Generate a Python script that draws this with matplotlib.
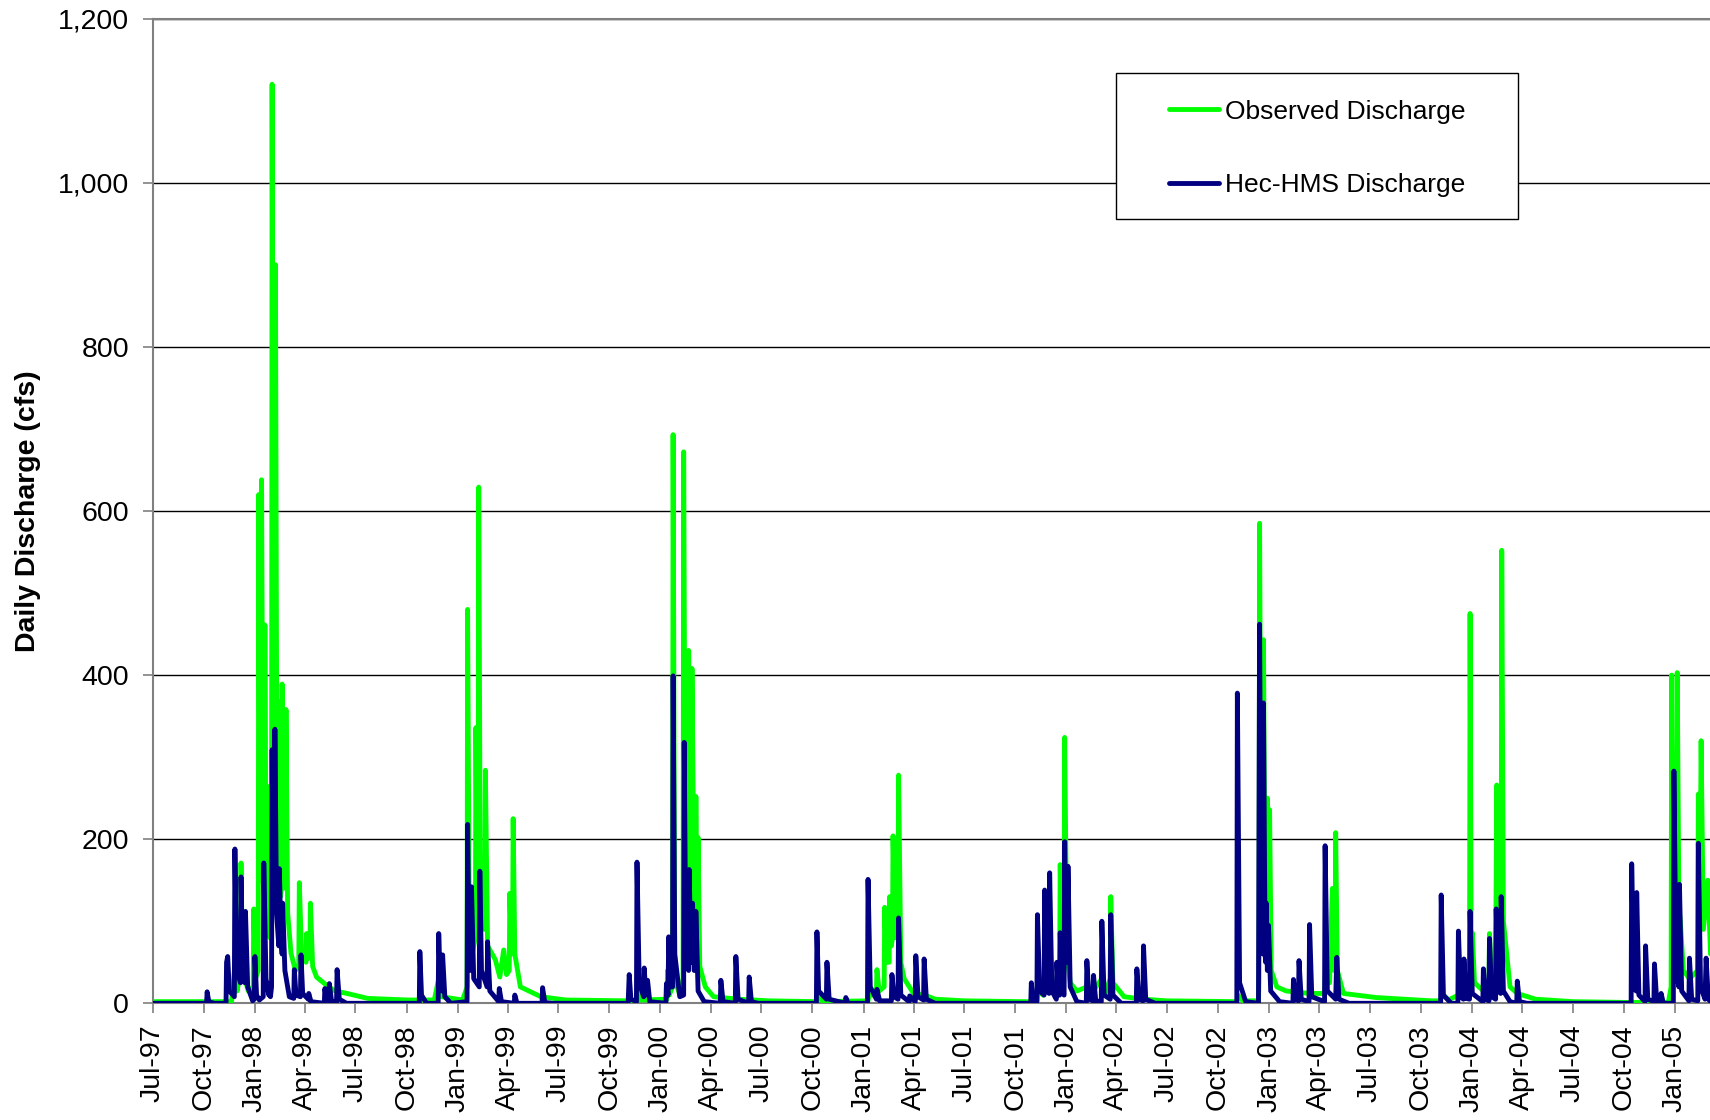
import matplotlib
matplotlib.use('Agg')
import matplotlib.pyplot as plt
import matplotlib.dates as mdates
import matplotlib.ticker as mticker
from matplotlib.patches import Rectangle
import pandas as pd

plt.rcParams['font.family'] = ['Liberation Sans', 'DejaVu Sans']

# observed daily discharge (cfs), turning points
obs_9798 = [("1997-07-01", 2), ("1997-11-20", 2), ("1997-11-27", 55), ("1997-11-30", 15),
            ("1997-12-06", 40), ("1997-12-07", 171), ("1997-12-10", 40), ("1997-12-20", 15),
            ("1997-12-29", 20), ("1997-12-30", 115), ("1998-01-02", 30), ("1998-01-07", 40),
            ("1998-01-08", 620), ("1998-01-10", 150), ("1998-01-12", 200), ("1998-01-13", 638),
            ("1998-01-16", 150), ("1998-01-18", 120), ("1998-01-19", 461), ("1998-01-21", 130),
            ("1998-01-24", 90), ("1998-01-25", 264), ("1998-01-28", 80), ("1998-01-31", 120),
            ("1998-02-01", 1120), ("1998-02-04", 250), ("1998-02-06", 300), ("1998-02-07", 900),
            ("1998-02-10", 150), ("1998-02-12", 130), ("1998-02-13", 368), ("1998-02-16", 130),
            ("1998-02-18", 140), ("1998-02-19", 389), ("1998-02-22", 180), ("1998-02-25", 140),
            ("1998-02-26", 358), ("1998-03-01", 110), ("1998-03-07", 61), ("1998-03-15", 40),
            ("1998-03-21", 45), ("1998-03-22", 147), ("1998-03-26", 60), ("1998-04-03", 50),
            ("1998-04-04", 85), ("1998-04-08", 55), ("1998-04-10", 60), ("1998-04-11", 122),
            ("1998-04-15", 45), ("1998-04-22", 32), ("1998-05-10", 22), ("1998-05-25", 15),
            ("1998-06-16", 12), ("1998-07-23", 6), ("1998-10-03", 4)]
obs_9899 = [("1998-11-20", 4), ("1998-11-28", 30), ("1998-12-03", 8), ("1999-01-10", 4),
            ("1999-01-18", 20), ("1999-01-19", 480), ("1999-01-22", 90), ("1999-01-27", 60),
            ("1999-02-02", 80), ("1999-02-03", 336), ("1999-02-05", 120), ("1999-02-07", 150),
            ("1999-02-08", 629), ("1999-02-11", 120), ("1999-02-19", 90), ("1999-02-20", 284),
            ("1999-02-24", 70), ("1999-03-10", 53), ("1999-03-18", 32), ("1999-03-25", 65),
            ("1999-03-30", 35), ("1999-04-04", 40), ("1999-04-05", 134), ("1999-04-08", 60),
            ("1999-04-10", 80), ("1999-04-11", 225), ("1999-04-14", 60), ("1999-04-24", 20),
            ("1999-05-31", 8), ("1999-07-15", 4), ("1999-11-01", 3)]
obs_9900 = [("1999-11-19", 3), ("1999-11-21", 20), ("1999-11-26", 4), ("2000-01-13", 5),
            ("2000-01-14", 40), ("2000-01-17", 10), ("2000-01-23", 20), ("2000-01-24", 693),
            ("2000-01-27", 30), ("2000-02-05", 10), ("2000-02-11", 30), ("2000-02-12", 672),
            ("2000-02-15", 150), ("2000-02-19", 140), ("2000-02-21", 430), ("2000-02-24", 150),
            ("2000-02-26", 160), ("2000-02-27", 408), ("2000-03-02", 120), ("2000-03-04", 110),
            ("2000-03-05", 252), ("2000-03-07", 90), ("2000-03-09", 202), ("2000-03-12", 45),
            ("2000-03-22", 20), ("2000-04-06", 8), ("2000-05-20", 5), ("2000-07-15", 3)]
obs_0001 = [("2000-10-08", 2), ("2000-10-10", 8), ("2000-10-20", 2), ("2001-01-09", 3),
            ("2001-01-11", 10), ("2001-01-24", 10), ("2001-01-25", 41), ("2001-01-29", 15),
            ("2001-02-07", 20), ("2001-02-08", 117), ("2001-02-11", 50), ("2001-02-16", 50),
            ("2001-02-17", 130), ("2001-02-20", 70), ("2001-02-22", 80), ("2001-02-23", 204),
            ("2001-02-27", 80), ("2001-03-04", 90), ("2001-03-05", 278), ("2001-03-09", 50),
            ("2001-03-15", 30), ("2001-04-01", 12), ("2001-04-21", 10), ("2001-05-10", 5),
            ("2001-07-01", 3), ("2001-10-15", 2)]
obs_0102 = [("2001-11-09", 2), ("2001-11-11", 15), ("2001-11-20", 10), ("2001-11-24", 40),
            ("2001-11-28", 15), ("2001-12-03", 60), ("2001-12-08", 15), ("2001-12-20", 30),
            ("2001-12-21", 169), ("2001-12-24", 50), ("2001-12-28", 60), ("2001-12-29", 324),
            ("2002-01-02", 60), ("2002-01-08", 25), ("2002-01-20", 15), ("2002-02-07", 20),
            ("2002-02-15", 12), ("2002-03-06", 30), ("2002-03-12", 12), ("2002-03-21", 30),
            ("2002-03-22", 130), ("2002-03-26", 25), ("2002-04-15", 8), ("2002-05-20", 5),
            ("2002-07-01", 3), ("2002-10-20", 2)]
obs_0203 = [("2002-11-04", 2), ("2002-11-06", 10), ("2002-11-15", 3), ("2002-12-13", 3),
            ("2002-12-14", 30), ("2002-12-15", 585), ("2002-12-18", 120), ("2002-12-21", 120),
            ("2002-12-22", 443), ("2002-12-25", 90), ("2002-12-28", 80), ("2002-12-29", 250),
            ("2002-12-31", 90), ("2003-01-02", 236), ("2003-01-05", 40), ("2003-01-15", 20),
            ("2003-02-01", 15), ("2003-03-15", 12), ("2003-04-11", 12), ("2003-04-13", 40),
            ("2003-04-20", 25), ("2003-04-25", 140), ("2003-04-28", 40), ("2003-04-30", 50),
            ("2003-05-01", 208), ("2003-05-04", 40), ("2003-05-15", 12), ("2003-07-13", 7),
            ("2003-10-20", 3)]
obs_0304 = [("2003-11-06", 3), ("2003-11-08", 12), ("2003-11-20", 4), ("2003-12-08", 10),
            ("2003-12-18", 12), ("2003-12-28", 10), ("2003-12-29", 475), ("2003-12-31", 60),
            ("2004-01-02", 86), ("2004-01-06", 25), ("2004-01-22", 15), ("2004-02-01", 20),
            ("2004-02-02", 85), ("2004-02-05", 40), ("2004-02-13", 40), ("2004-02-15", 266),
            ("2004-02-18", 90), ("2004-02-23", 80), ("2004-02-24", 552), ("2004-02-27", 100),
            ("2004-03-10", 20), ("2004-03-23", 12), ("2004-04-25", 5), ("2004-07-01", 2),
            ("2004-10-10", 1)]
obs_0405 = [("2004-12-20", 1), ("2004-12-25", 20), ("2004-12-26", 400), ("2004-12-29", 80),
            ("2005-01-04", 70), ("2005-01-05", 403), ("2005-01-08", 120), ("2005-01-11", 95),
            ("2005-01-16", 40), ("2005-01-27", 30), ("2005-02-11", 40), ("2005-02-12", 255),
            ("2005-02-15", 120), ("2005-02-17", 320), ("2005-02-21", 90), ("2005-03-01", 150),
            ("2005-03-06", 60)]

# Hec-HMS simulated daily discharge (cfs)
hms_9798 = [("1997-07-01", 0), ("1997-10-06", 0), ("1997-10-07", 14), ("1997-10-10", 2),
            ("1997-10-20", 0), ("1997-11-10", 0), ("1997-11-11", 50), ("1997-11-13", 57),
            ("1997-11-16", 15), ("1997-11-25", 8), ("1997-11-26", 188), ("1997-11-29", 40),
            ("1997-12-06", 25), ("1997-12-07", 154), ("1997-12-10", 40), ("1997-12-14", 25),
            ("1997-12-15", 112), ("1997-12-19", 20), ("1997-12-28", 3), ("1997-12-31", 5),
            ("1998-01-01", 57), ("1998-01-04", 10), ("1998-01-09", 4), ("1998-01-16", 8),
            ("1998-01-17", 171), ("1998-01-21", 30), ("1998-01-26", 10), ("1998-01-27", 24),
            ("1998-01-29", 8), ("1998-01-31", 20), ("1998-02-01", 309), ("1998-02-03", 120),
            ("1998-02-05", 150), ("1998-02-06", 334), ("1998-02-09", 110), ("1998-02-13", 70),
            ("1998-02-14", 164), ("1998-02-17", 80), ("1998-02-19", 60), ("1998-02-20", 122),
            ("1998-02-24", 40), ("1998-03-04", 8), ("1998-03-12", 6), ("1998-03-13", 41),
            ("1998-03-16", 10), ("1998-03-24", 8), ("1998-03-25", 59), ("1998-03-28", 12),
            ("1998-04-07", 5), ("1998-04-08", 12), ("1998-04-12", 2), ("1998-05-06", 0),
            ("1998-05-07", 18), ("1998-05-10", 4), ("1998-05-14", 3), ("1998-05-15", 24),
            ("1998-05-19", 3), ("1998-05-28", 1), ("1998-05-29", 41), ("1998-06-02", 5),
            ("1998-06-15", 0)]
hms_9899 = [("1998-10-24", 0), ("1998-10-25", 63), ("1998-10-28", 10), ("1998-11-06", 0),
            ("1998-11-27", 0), ("1998-11-28", 85), ("1998-12-01", 20), ("1998-12-04", 15),
            ("1998-12-05", 59), ("1998-12-09", 8), ("1998-12-20", 0), ("1999-01-18", 2),
            ("1999-01-19", 218), ("1999-01-22", 50), ("1999-01-25", 40), ("1999-01-26", 142),
            ("1999-01-30", 30), ("1999-02-09", 20), ("1999-02-10", 161), ("1999-02-13", 40),
            ("1999-02-23", 20), ("1999-02-24", 75), ("1999-02-28", 15), ("1999-03-16", 2),
            ("1999-03-17", 18), ("1999-03-21", 2), ("1999-04-13", 0), ("1999-04-14", 10),
            ("1999-04-18", 0), ("1999-06-02", 0), ("1999-06-03", 19), ("1999-06-07", 1),
            ("1999-06-20", 0)]
hms_9900 = [("1999-11-04", 0), ("1999-11-06", 35), ("1999-11-09", 5), ("1999-11-19", 2),
            ("1999-11-20", 172), ("1999-11-24", 25), ("1999-12-02", 8), ("1999-12-03", 43),
            ("1999-12-06", 10), ("1999-12-09", 28), ("1999-12-13", 2), ("2000-01-11", 0),
            ("2000-01-12", 24), ("2000-01-15", 10), ("2000-01-16", 81), ("2000-01-20", 20),
            ("2000-01-23", 20), ("2000-01-24", 399), ("2000-01-27", 60), ("2000-02-05", 8),
            ("2000-02-12", 10), ("2000-02-13", 318), ("2000-02-16", 60), ("2000-02-21", 40),
            ("2000-02-22", 163), ("2000-02-25", 50), ("2000-02-27", 50), ("2000-02-28", 122),
            ("2000-03-02", 40), ("2000-03-04", 40), ("2000-03-05", 112), ("2000-03-09", 15),
            ("2000-03-20", 2), ("2000-04-18", 0), ("2000-04-19", 28), ("2000-04-23", 2),
            ("2000-05-15", 0), ("2000-05-16", 57), ("2000-05-20", 5), ("2000-06-08", 0),
            ("2000-06-09", 32), ("2000-06-13", 2), ("2000-06-25", 0)]
hms_0001 = [("2000-10-08", 0), ("2000-10-09", 87), ("2000-10-12", 15), ("2000-10-26", 5),
            ("2000-10-27", 50), ("2000-10-31", 5), ("2000-11-29", 0), ("2000-11-30", 7),
            ("2000-12-04", 0), ("2001-01-08", 0), ("2001-01-09", 151), ("2001-01-13", 20),
            ("2001-01-24", 5), ("2001-01-25", 17), ("2001-01-30", 3), ("2001-02-20", 3),
            ("2001-02-21", 35), ("2001-02-25", 8), ("2001-03-04", 5), ("2001-03-05", 104),
            ("2001-03-09", 10), ("2001-03-24", 2), ("2001-03-25", 9), ("2001-04-04", 2),
            ("2001-04-05", 58), ("2001-04-09", 8), ("2001-04-19", 4), ("2001-04-20", 54),
            ("2001-04-24", 5), ("2001-05-10", 0)]
hms_0102 = [("2001-10-29", 0), ("2001-10-30", 25), ("2001-11-02", 3), ("2001-11-09", 2),
            ("2001-11-10", 108), ("2001-11-14", 15), ("2001-11-22", 10), ("2001-11-23", 138),
            ("2001-11-27", 15), ("2001-12-01", 12), ("2001-12-02", 159), ("2001-12-06", 15),
            ("2001-12-14", 5), ("2001-12-15", 50), ("2001-12-18", 10), ("2001-12-20", 10),
            ("2001-12-21", 86), ("2001-12-24", 15), ("2001-12-28", 10), ("2001-12-29", 197),
            ("2002-01-01", 60), ("2002-01-03", 50), ("2002-01-04", 167), ("2002-01-08", 20),
            ("2002-01-20", 2), ("2002-02-06", 0), ("2002-02-07", 52), ("2002-02-11", 5),
            ("2002-02-18", 3), ("2002-02-19", 34), ("2002-02-23", 3), ("2002-03-05", 2),
            ("2002-03-06", 100), ("2002-03-10", 10), ("2002-03-21", 5), ("2002-03-22", 108),
            ("2002-03-26", 10), ("2002-04-10", 0), ("2002-05-07", 0), ("2002-05-08", 42),
            ("2002-05-12", 5), ("2002-05-19", 3), ("2002-05-20", 70), ("2002-05-24", 5),
            ("2002-06-10", 0)]
hms_0203 = [("2002-11-04", 0), ("2002-11-05", 378), ("2002-11-09", 25), ("2002-11-20", 2),
            ("2002-12-13", 0), ("2002-12-15", 462), ("2002-12-18", 80), ("2002-12-21", 60),
            ("2002-12-22", 366), ("2002-12-25", 60), ("2002-12-26", 50), ("2002-12-27", 122),
            ("2002-12-29", 40), ("2002-12-31", 95), ("2003-01-04", 15), ("2003-01-20", 2),
            ("2003-02-13", 0), ("2003-02-14", 29), ("2003-02-17", 5), ("2003-02-23", 3),
            ("2003-02-24", 52), ("2003-02-28", 5), ("2003-03-14", 2), ("2003-03-15", 96),
            ("2003-03-19", 8), ("2003-04-11", 2), ("2003-04-12", 192), ("2003-04-16", 15),
            ("2003-05-01", 5), ("2003-05-03", 56), ("2003-05-07", 5), ("2003-05-25", 0)]
hms_0304 = [("2003-11-06", 0), ("2003-11-07", 132), ("2003-11-11", 10), ("2003-11-25", 0),
            ("2003-12-07", 0), ("2003-12-08", 88), ("2003-12-12", 8), ("2003-12-17", 5),
            ("2003-12-18", 54), ("2003-12-22", 6), ("2003-12-28", 5), ("2003-12-29", 112),
            ("2004-01-02", 12), ("2004-01-21", 2), ("2004-01-22", 42), ("2004-01-26", 5),
            ("2004-02-01", 3), ("2004-02-02", 79), ("2004-02-06", 8), ("2004-02-13", 5),
            ("2004-02-14", 115), ("2004-02-18", 15), ("2004-02-22", 12), ("2004-02-23", 130),
            ("2004-02-27", 15), ("2004-03-10", 2), ("2004-03-22", 0), ("2004-03-23", 27),
            ("2004-03-27", 2), ("2004-04-10", 0)]
hms_0405 = [("2004-10-14", 0), ("2004-10-15", 170), ("2004-10-19", 20), ("2004-10-23", 15),
            ("2004-10-24", 135), ("2004-10-28", 10), ("2004-11-08", 2), ("2004-11-09", 70),
            ("2004-11-13", 5), ("2004-11-24", 2), ("2004-11-25", 48), ("2004-11-29", 3),
            ("2004-12-06", 0), ("2004-12-07", 12), ("2004-12-11", 0), ("2004-12-29", 0),
            ("2004-12-30", 283), ("2005-01-03", 40), ("2005-01-08", 20), ("2005-01-09", 145),
            ("2005-01-13", 15), ("2005-01-26", 3), ("2005-01-27", 55), ("2005-01-31", 5),
            ("2005-02-11", 3), ("2005-02-12", 195), ("2005-02-16", 20), ("2005-02-24", 5),
            ("2005-02-26", 55), ("2005-03-02", 5), ("2005-03-06", 2)]

y_ticks = [0, 200, 400, 600, 800, 1000, 1200]


def to_series(*seasons):
    pts = sorted([p for s in seasons for p in s], key=lambda p: p[0])
    dates = pd.to_datetime([p[0] for p in pts])
    vals = [p[1] for p in pts]
    return dates, vals


obs_dates, obs_vals = to_series(obs_9798, obs_9899, obs_9900, obs_0001,
                                obs_0102, obs_0203, obs_0304, obs_0405)
hms_dates, hms_vals = to_series(hms_9798, hms_9899, hms_9900, hms_0001,
                                hms_0102, hms_0203, hms_0304, hms_0405)

fig = plt.figure(figsize=(17.1, 11.2), dpi=100)
ax = fig.add_axes([0.0893, 0.1042, 0.9107, 0.8792])

ax.plot(obs_dates, obs_vals, color='#00ff00', lw=3.5, label='Observed Discharge',
        solid_joinstyle='round', solid_capstyle='round', zorder=3)
ax.plot(hms_dates, hms_vals, color='#000080', lw=3.5, label='Hec-HMS Discharge',
        solid_joinstyle='round', solid_capstyle='round', zorder=4)

ax.set_xlim(pd.Timestamp('1997-07-01'), pd.Timestamp('2005-03-05'))
ax.set_ylim(0, 1200)
ax.set_yticks(y_ticks)
ax.yaxis.set_major_formatter(mticker.FuncFormatter(lambda v, p: f'{int(v):,}'))
ax.grid(axis='y', color='black', lw=1.0)
ax.set_axisbelow(True)

ax.set_xticks(pd.date_range('1997-07-01', '2005-01-01', freq='3MS'))
ax.xaxis.set_major_formatter(mdates.DateFormatter('%b-%y'))
plt.setp(ax.get_xticklabels(), rotation=90)

ax.tick_params(axis='both', labelsize=20.5, direction='out', length=7, width=1.2, color='#808080')
ax.tick_params(axis='x', pad=8.5)
ax.tick_params(axis='y', pad=10)

for side in ['left', 'bottom', 'top']:
    ax.spines[side].set_color('#808080')
    ax.spines[side].set_linewidth(1.5)
ax.spines['right'].set_visible(False)

ax.set_ylabel('Daily Discharge (cfs)', fontsize=20.5, fontweight='bold')
ax.yaxis.set_label_coords(-0.072, 0.5)

# legend box drawn separately so the padding can match the original
ax.add_patch(Rectangle((0.6184, 0.7962), 0.2584, 0.1484, transform=ax.transAxes,
                       facecolor='white', edgecolor='black', lw=1.0, zorder=5))
leg = ax.legend(loc='upper left', bbox_to_anchor=(0.6527, 0.9176), fontsize=19,
                frameon=False, borderpad=0, borderaxespad=0, labelspacing=1.88,
                handlelength=1.9, handletextpad=0.2)
leg.set_zorder(6)

fig.savefig('out.png', dpi=100)
